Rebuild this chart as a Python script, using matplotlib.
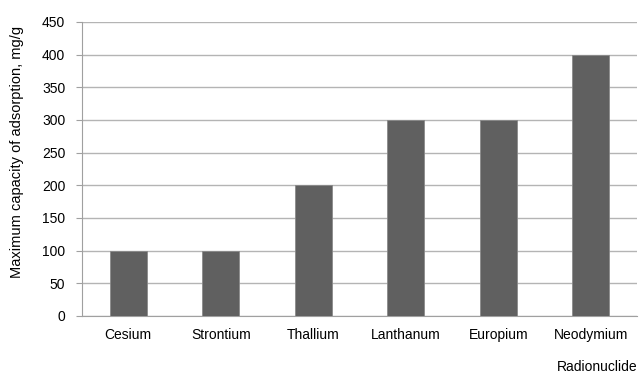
import matplotlib.pyplot as plt
import numpy as np

plt.rcParams['font.family'] = ['Liberation Sans', 'DejaVu Sans']

# adsorption capacity per radionuclide
nuclides = ["Cesium", "Strontium", "Thallium", "Lanthanum", "Europium", "Neodymium"]
capacity = [100, 100, 200, 300, 300, 400]
yticks = [0, 50, 100, 150, 200, 250, 300, 350, 400, 450]

fig = plt.figure(figsize=(6.39, 3.76), dpi=100)
ax = fig.add_axes([0.1283, 0.1596, 0.8686, 0.7819])

x = np.arange(len(nuclides))
ax.bar(x, capacity, width=0.4, color="#606060", edgecolor="#8a8a8a", linewidth=0.6, zorder=3)

ax.set_xlim(-0.5, len(nuclides) - 0.5)
ax.set_ylim(0, 450)
ax.set_yticks(yticks)
ax.set_xticks(x)
ax.set_xticklabels(nuclides, fontsize=10)
ax.tick_params(axis='y', labelsize=10, length=4, color="#a0a0a0", pad=8)
ax.tick_params(axis='x', length=0, pad=9)

ax.yaxis.grid(True, color="#b4b4b4", linewidth=1.0, zorder=0)
ax.set_axisbelow(True)
for side in ["top", "right"]:
    ax.spines[side].set_visible(False)
ax.spines["left"].set_color("#a0a0a0")
ax.spines["bottom"].set_color("#a0a0a0")

ax.set_ylabel("Maximum capacity of adsorption, mg/g", fontsize=10.5)
ax.yaxis.set_label_coords(-(82 - 24) / (639 * 0.8686), (316 - 152) / (376 * 0.7819))
fig.text(0.997, 0.006, "Radionuclide", fontsize=10, ha="right", va="bottom")

fig.savefig("out.png", dpi=100)
